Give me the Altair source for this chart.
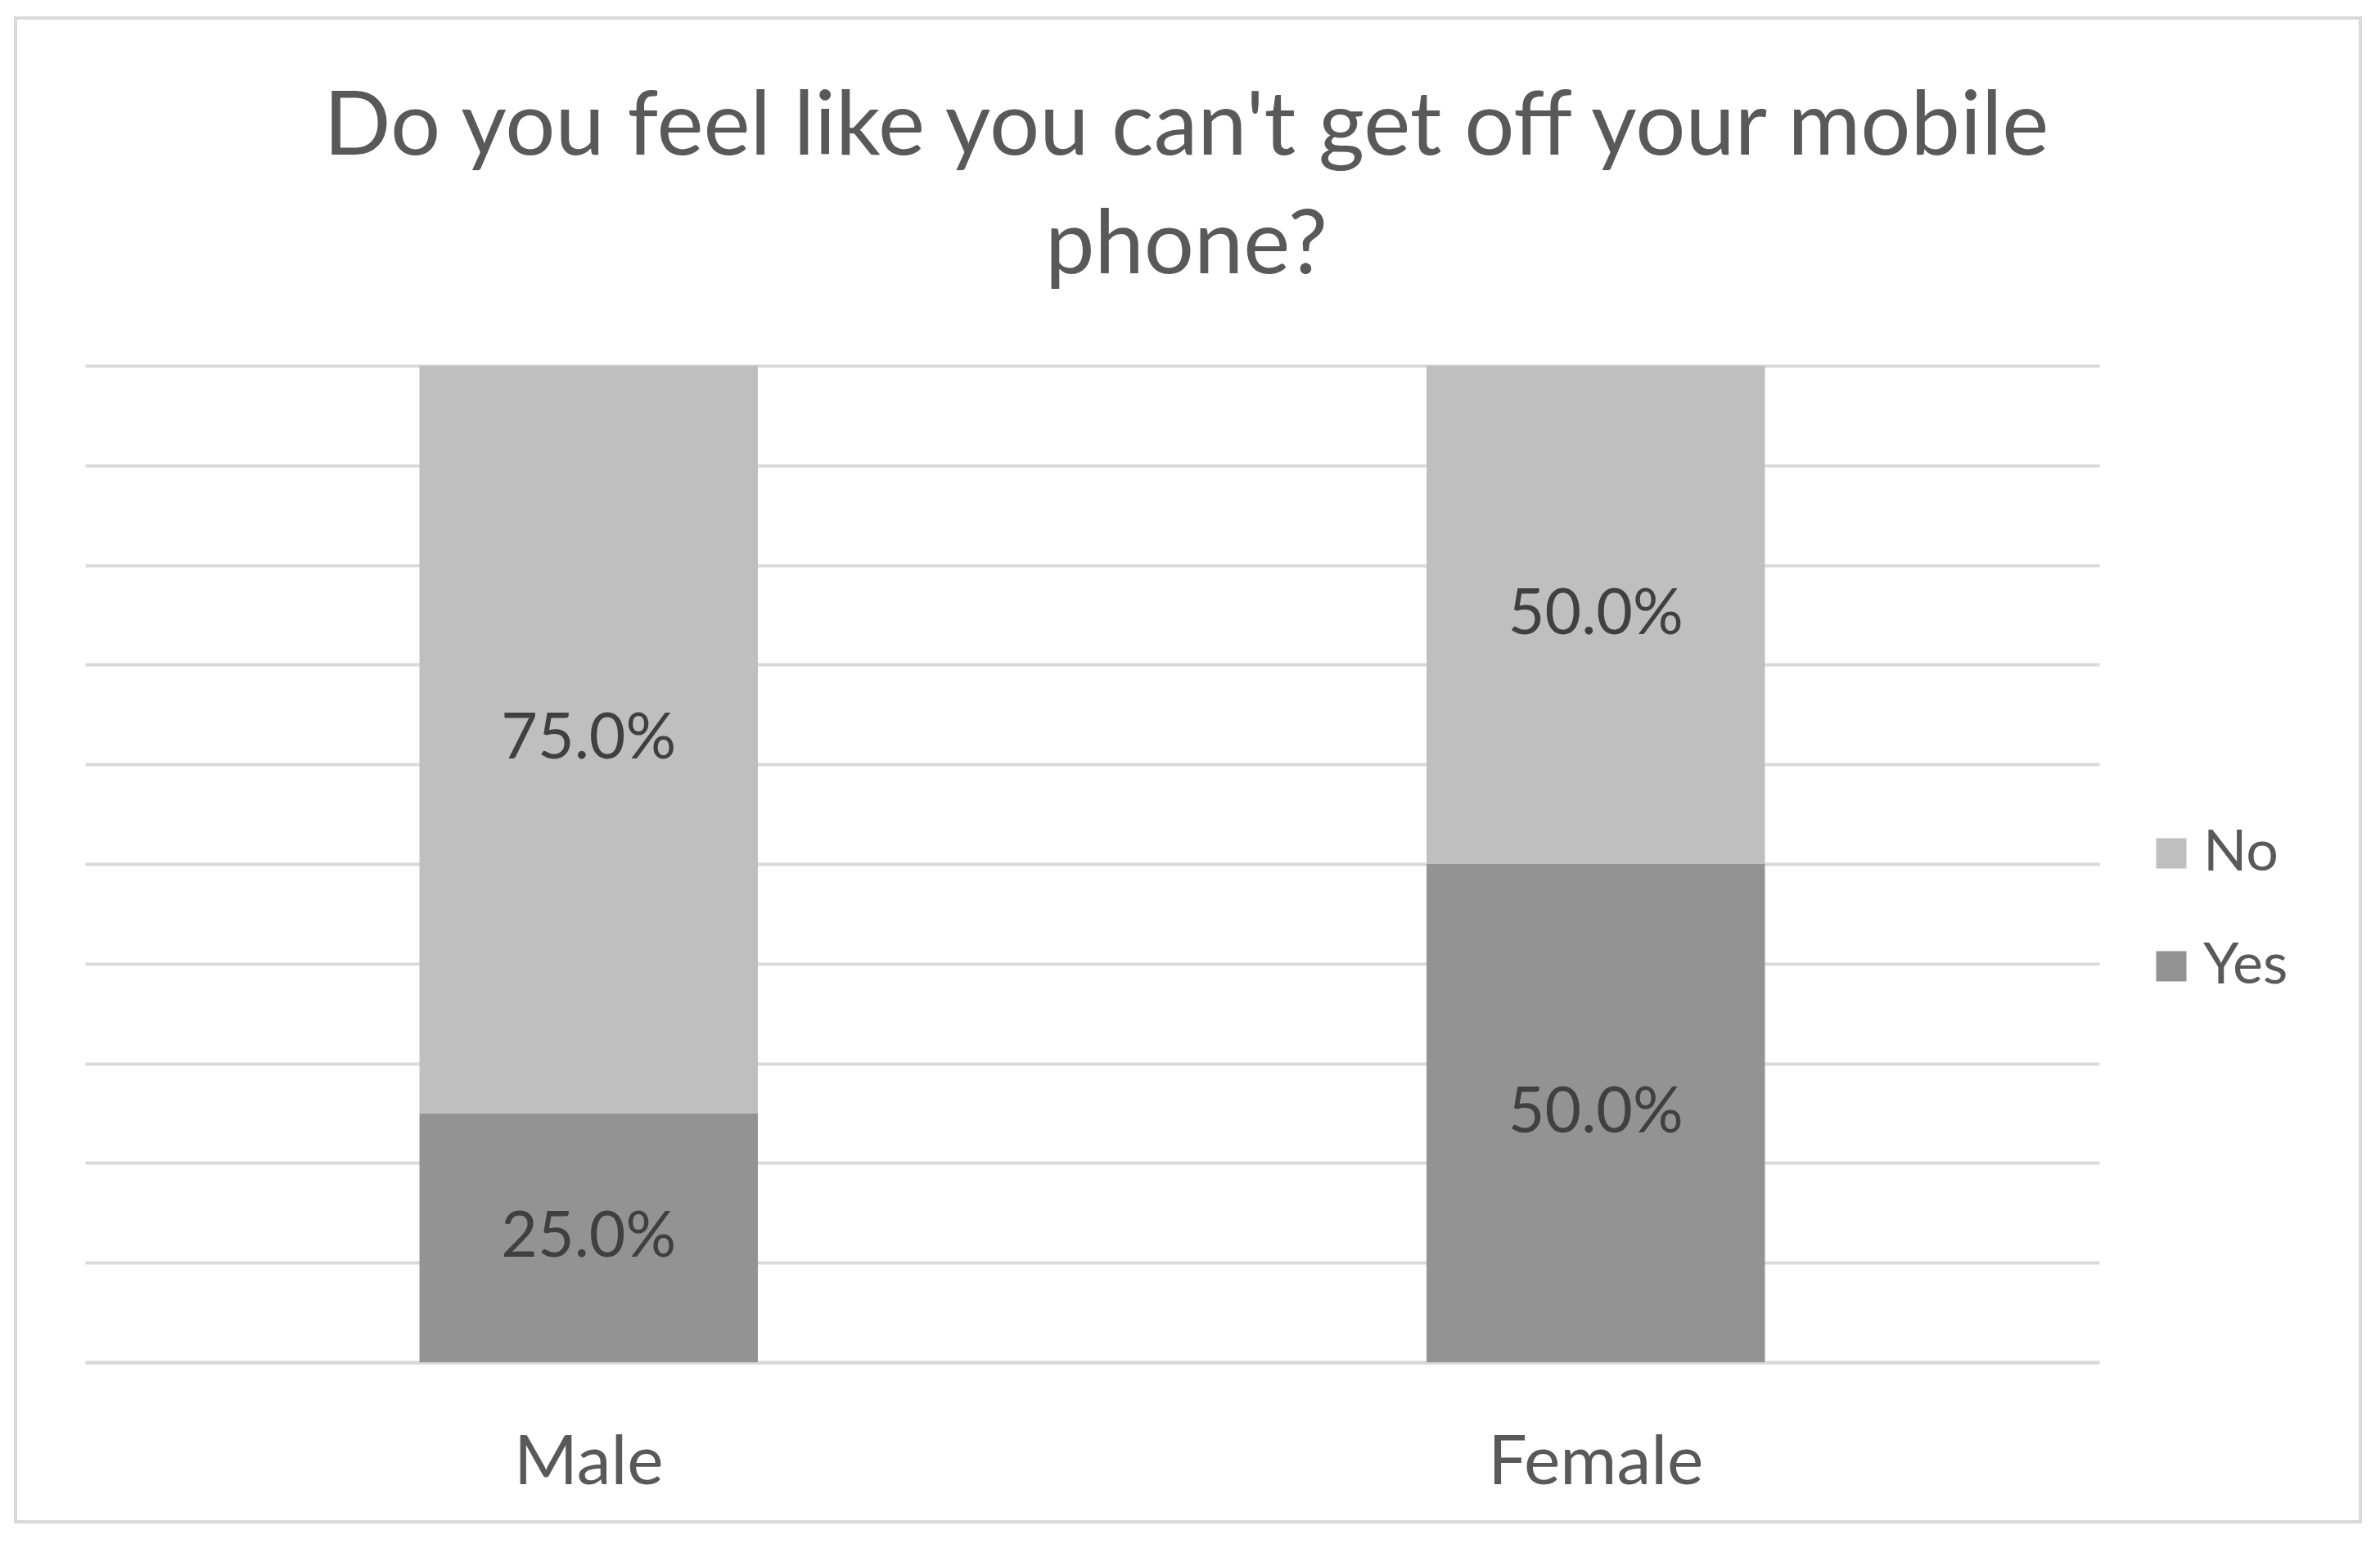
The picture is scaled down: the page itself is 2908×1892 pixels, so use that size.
import altair as alt
import pandas as pd

genders = ["Male", "Female"]
answers = ["No", "Yes"]
yes_share = [0.25, 0.50]
no_share = [0.75, 0.50]
colors = ["#BFBFBF", "#939393"]
title_lines = ["Do you feel like you can't get off your mobile", "phone?"]

rows = []
for g, y, n in zip(genders, yes_share, no_share):
    rows.append({"gender": g, "answer": "Yes", "value": y, "ord": 0, "mid": y / 2})
    rows.append({"gender": g, "answer": "No", "value": n, "ord": 1, "mid": y + n / 2})
df = pd.DataFrame(rows)

FONT = "Lato"
W, H = 2461, 1218

xenc = alt.X("gender:N", sort=genders,
             scale=alt.Scale(paddingInner=0.664, paddingOuter=0.332),
             axis=alt.Axis(title=None, labelAngle=0, labelFontSize=84, labelColor="#595959",
                           labelFont=FONT, labelPadding=82, labelLimit=0, ticks=False,
                           domainColor="#D9D9D9", domainWidth=4))

bars = alt.Chart(df).mark_bar().encode(
    x=xenc,
    y=alt.Y("value:Q", stack="zero",
            scale=alt.Scale(domain=[0, 1], nice=False),
            axis=alt.Axis(title=None, labels=False, ticks=False, domain=False,
                          values=[i / 10 for i in range(11)],
                          grid=True, gridColor="#D9D9D9", gridWidth=4)),
    color=alt.Color("answer:N", scale=alt.Scale(domain=answers, range=colors),
                    legend=alt.Legend(title=None, orient="none", legendX=2514, legendY=561,
                                      symbolType="square", symbolSize=1369,
                                      symbolStrokeWidth=0, labelFontSize=70,
                                      labelFont=FONT, labelColor="#595959",
                                      labelOffset=4, rowPadding=68)),
    order=alt.Order("ord:Q"),
)

labels = alt.Chart(df).mark_text(font=FONT, fontSize=77, color="#404040", baseline="middle").encode(
    x=alt.X("gender:N", sort=genders),
    y=alt.Y("mid:Q"),
    text=alt.Text("value:Q", format=".1%"),
)

frame = alt.Chart(df).mark_rect(fill=None, stroke="#D9D9D9", strokeWidth=4).encode(
    x=alt.value(-85), x2=alt.value(2780), y=alt.value(-425), y2=alt.value(1413)
)

chart = alt.layer(frame, bars, labels).properties(
    width=W, height=H,
    title=alt.TitleParams(title_lines, anchor="middle", dx=115, dy=347, fontSize=108, font=FONT,
                          fontWeight="normal", color="#595959", lineHeight=145,
                          baseline="top", offset=10),
    padding={"left": 96, "top": 439, "right": 325, "bottom": 205},
    autosize=alt.AutoSizeParams(type="none"),
).configure_view(stroke=None)

chart.save("out.html", embed_options={"renderer": "svg", "actions": False})
